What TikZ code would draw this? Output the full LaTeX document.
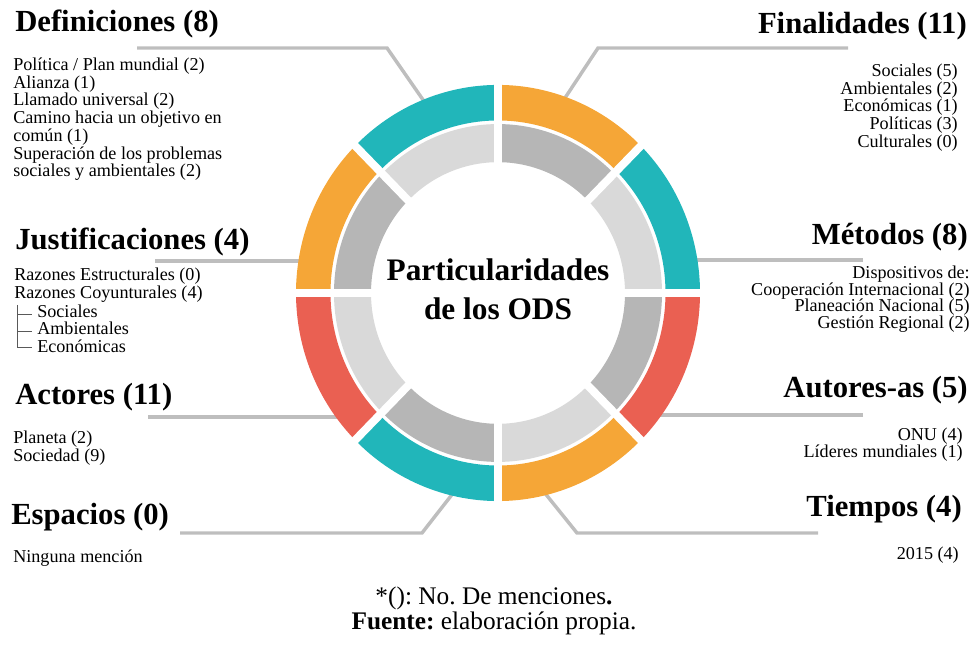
\documentclass[tikz,border=0pt]{standalone}
\usepackage{fontspec}
\setmainfont{Liberation Serif}
\frenchspacing
\definecolor{odsteal}{RGB}{33,182,186}
\definecolor{odsorange}{RGB}{245,166,55}
\definecolor{odsred}{RGB}{234,96,82}
\definecolor{ringdark}{RGB}{182,182,182}
\definecolor{ringlight}{RGB}{217,217,217}
\definecolor{linkgray}{RGB}{190,190,190}

\begin{document}
\begin{tikzpicture}[x=0.75pt,y=0.75pt]
        \tikzstyle{head} = [inner sep=0pt, font=\fontsize{23}{27}\selectfont\bfseries]
        \tikzstyle{body} = [inner sep=0pt, align=left, font=\fontsize{13.6}{13.4}\selectfont]
        \tikzstyle{bodyr} = [inner sep=0pt, align=right, font=\fontsize{13.6}{12.3}\selectfont]
        \tikzstyle{link} = [draw=linkgray, line width=2.6pt]
        \tikzstyle{tree} = [draw=black!65, line width=0.6pt]
        \useasboundingbox (0,0) rectangle (974,645);
        % connector points
        \coordinate (defA) at (137,597);  \coordinate (defB) at (387,597);  \coordinate (defC) at (428,538);
        \coordinate (finA) at (848,597);  \coordinate (finB) at (598,597);  \coordinate (finC) at (563,544);
        \coordinate (jusA) at (155,384);  \coordinate (jusC) at (305,384);
        \coordinate (metA) at (863,385);  \coordinate (metC) at (692,385);
        \coordinate (actA) at (148,228);  \coordinate (actC) at (340,228);
        \coordinate (autA) at (863,230);  \coordinate (autC) at (656,230);
        \coordinate (espA) at (180,112);  \coordinate (espB) at (422,112);  \coordinate (espC) at (454,153);
        \coordinate (tieA) at (818,112);  \coordinate (tieB) at (577,112);  \coordinate (tieC) at (544,153);
        \path[link] (defA) -- (defB) -- (defC);
        \path[link] (finA) -- (finB) -- (finC);
        \path[link] (jusA) -- (jusC);
        \path[link] (metA) -- (metC);
        \path[link] (actA) -- (actC);
        \path[link] (autA) -- (autC);
        \path[link] (espA) -- (espB) -- (espC);
        \path[link] (tieA) -- (tieB) -- (tieC);
        % ring
        \begin{scope}[shift={(498,352)}, yscale=1.03]
          \foreach \a/\c in {0/odsteal,45/odsorange,90/odsteal,135/odsorange,180/odsred,225/odsteal,270/odsorange,315/odsred}{
            \fill[\c] (\a:202) arc[start angle=\a, delta angle=45, radius=202]
              -- ({\a+45}:167.5) arc[start angle=\a+45, delta angle=-45, radius=167.5] -- cycle;
          }
          \foreach \a/\c in {0/ringlight,45/ringdark,90/ringlight,135/ringdark,180/ringlight,225/ringdark,270/ringlight,315/ringdark}{
            \fill[\c] (\a:164) arc[start angle=\a, delta angle=45, radius=164]
              -- ({\a+45}:127) arc[start angle=\a+45, delta angle=-45, radius=127] -- cycle;
          }
          \foreach \a in {0,45,...,315}
            \draw[white, line width=6pt] (0,0) -- (\a:205);
        \end{scope}
        \node[inner sep=0pt, align=center, anchor=north, font=\fontsize{23.5}{29}\selectfont\bfseries] (title) at (498,386) {Particularidades\\de los ODS};
        % headings
        \node[head, anchor=base west] (defHead) at (15,613) {Definiciones (8)};
        \node[head, anchor=base east] (finHead) at (967,611) {Finalidades (11)};
        \node[head, anchor=base west] (jusHead) at (15,395) {Justificaciones (4)};
        \node[head, anchor=base east] (metHead) at (968,400) {Métodos (8)};
        \node[head, anchor=base west] (actHead) at (15,240) {Actores (11)};
        \node[head, anchor=base east] (autHead) at (968,247) {Autores-as (5)};
        \node[head, anchor=base west] (espHead) at (11,120) {Espacios (0)};
        \node[head, anchor=base east] (tieHead) at (962,128) {Tiempos (4)};
        % lists
        \node[body, anchor=north west, font=\fontsize{13.6}{13.3}\selectfont] (defText) at (13,587.5)
          {Política / Plan mundial (2)\\Alianza (1)\\Llamado universal (2)\\Camino hacia un objetivo en\\común (1)\\Superación de los problemas\\sociales y ambientales (2)};
        \node[bodyr, anchor=north east, font=\fontsize{13.6}{12}\selectfont] (finText) at (958,581.5)
          {Sociales (5)\\Ambientales (2)\\Económicas (1)\\Políticas (3)\\Culturales (0)};
        \node[body, anchor=north west, font=\fontsize{13.6}{13.5}\selectfont] (jusText) at (14,377.5)
          {Razones Estructurales (0)\\Razones Coyunturales (4)};
        \node[body, anchor=north west, font=\fontsize{13.6}{13.1}\selectfont] (jusSub) at (37,340.5)
          {Sociales\\Ambientales\\Económicas};
        \path[tree] (17,340) -- (17,298) -- (32,298);
        \path[tree] (17,331) -- (32,331);
        \path[tree] (17,314) -- (32,314);
        \node[bodyr, anchor=north east, font=\fontsize{13.6}{12.5}\selectfont] (metText) at (970,379.5)
          {Dispositivos de:\\Cooperación Internacional (2)\\Planeación Nacional (5)\\Gestión Regional (2)};
        \node[body, anchor=north west, font=\fontsize{13.6}{13.5}\selectfont] (actText) at (13,214.5)
          {Planeta (2)\\Sociedad (9)};
        \node[bodyr, anchor=north east, font=\fontsize{13.6}{12.8}\selectfont] (autText) at (963,217.5)
          {ONU (4)\\Líderes mundiales (1)};
        \node[body, anchor=north west] (espText) at (13,95.5) {Ninguna mención};
        \node[bodyr, anchor=north east] (tieText) at (959,98.5) {2015 (4)};
        % caption
        \node[inner sep=0pt, anchor=base, font=\fontsize{19}{22}\selectfont] (capA) at (494,40) {*(): No. De menciones\textbf{.}};
        \node[inner sep=0pt, anchor=base, font=\fontsize{19}{22}\selectfont] (capB) at (494,15) {\textbf{Fuente:} elaboración propia.};
      \end{tikzpicture}
\end{document}
